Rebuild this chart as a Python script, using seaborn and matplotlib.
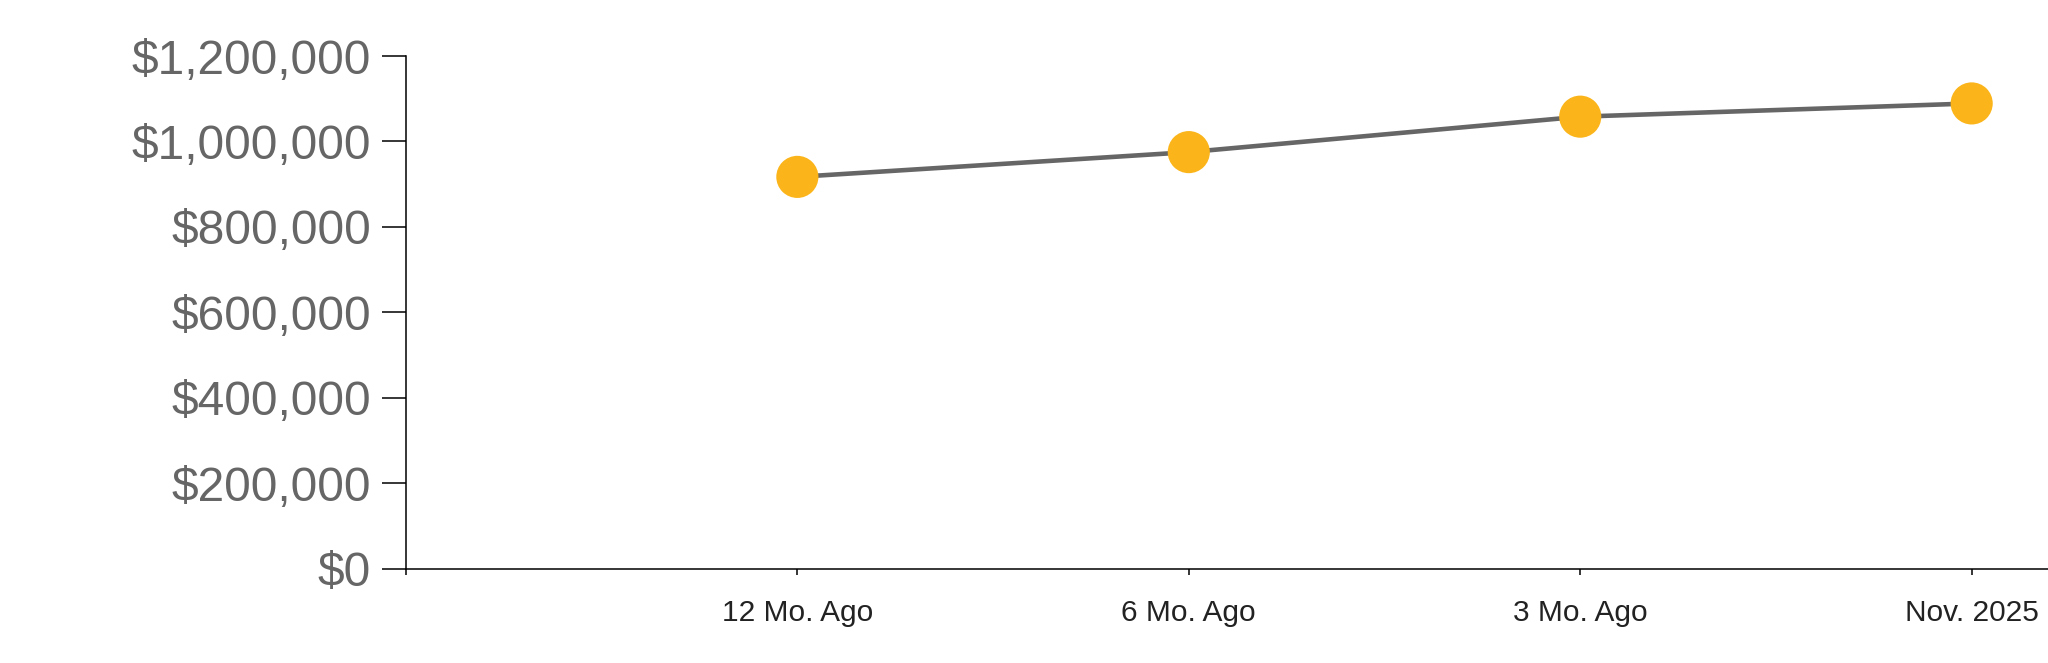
import matplotlib
matplotlib.use("Agg")
import matplotlib.pyplot as plt
from matplotlib.ticker import FuncFormatter
import pandas as pd
import seaborn as sns

# data
periods = ["12 Mo. Ago", "6 Mo. Ago", "3 Mo. Ago", "Nov. 2025"]
values = [917000, 975000, 1058000, 1089000]
y_ticks = [0, 200000, 400000, 600000, 800000, 1000000, 1200000]

LINE_GRAY = "#666666"
DOT_YELLOW = "#FBB51A"

df = pd.DataFrame({"period": periods, "value": values})

sns.set_theme(style="white")
plt.rcParams["font.family"] = ["Liberation Sans", "DejaVu Sans"]

fig = plt.figure(figsize=(20.48, 6.63), dpi=100)
ax = fig.add_axes([0.1982, 0.1425, 0.8018, 0.773])

sns.lineplot(data=df, x="period", y="value", color=LINE_GRAY,
             linewidth=3.3, sort=False, ax=ax, zorder=2)
sns.scatterplot(data=df, x="period", y="value", color=DOT_YELLOW,
                s=920, edgecolor="none", linewidth=0, ax=ax, zorder=3,
                clip_on=False)

ax.set_xlim(-1.0, 3.195)
ax.set_ylim(0, 1200000)
ax.set_yticks(y_ticks)
ax.yaxis.set_major_formatter(FuncFormatter(lambda v, _: f"${v:,.0f}"))

# outer tick at the axis origin, like the d3 domain path
ax.set_xticks([-1, 0, 1, 2, 3])
ax.set_xticklabels([""] + periods)

ax.set_xlabel("")
ax.set_ylabel("")

for side in ["top", "right"]:
    ax.spines[side].set_visible(False)
for side in ["left", "bottom"]:
    ax.spines[side].set_color("black")
    ax.spines[side].set_linewidth(1.1)

ax.tick_params(axis="y", which="major", length=17, width=1.1, color="black",
               pad=8, labelsize=34.5, labelcolor="#666666", left=True)
ax.tick_params(axis="x", which="major", length=4, width=1.1, color="black",
               pad=18, labelsize=21.5, labelcolor="#222222", bottom=True)

fig.savefig("out.png", dpi=100)
plt.close(fig)
